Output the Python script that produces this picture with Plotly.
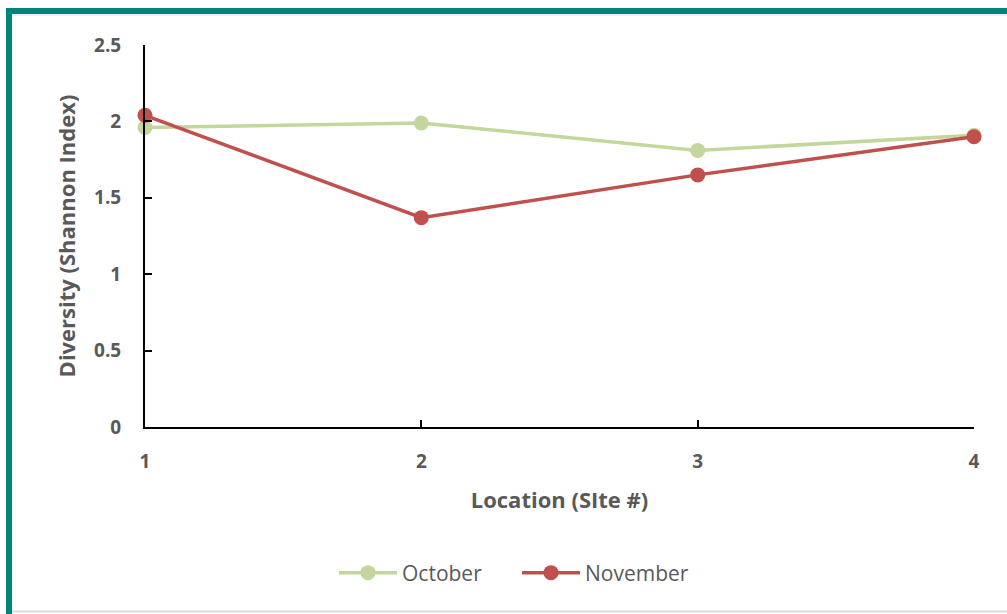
import plotly.graph_objects as go

sites = [1, 2, 3, 4]
october = [1.96, 1.99, 1.81, 1.91]
november = [2.04, 1.37, 1.65, 1.90]
series_names = ["October", "November"]
y_ticks = [0, 0.5, 1, 1.5, 2, 2.5]
y_tick_labels = ["0", "0.5", "1", "1.5", "2", "2.5"]

W, H = 1007, 614
L, R, T, B = 145, 974, 45, 427

def px(x):
    return (x - L) / (R - L)

def py(y):
    return (B - y) / (B - T)

fig = go.Figure()
fig.add_trace(go.Scatter(x=sites, y=october, name=series_names[0], mode="lines+markers",
                         line=dict(color="#C3D69B", width=3.5), marker=dict(size=15, color="#C3D69B"),
                         cliponaxis=False))
fig.add_trace(go.Scatter(x=sites, y=november, name=series_names[1], mode="lines+markers",
                         line=dict(color="#C0504D", width=3.5), marker=dict(size=15, color="#C0504D"),
                         cliponaxis=False))

teal = "#00857A"
shapes = [
    dict(type="rect", xref="paper", yref="paper", x0=px(6), x1=px(12), y0=py(614), y1=py(8),
         fillcolor=teal, line=dict(width=0), layer="below"),
    dict(type="rect", xref="paper", yref="paper", x0=px(6), x1=px(1007), y0=py(14), y1=py(8),
         fillcolor=teal, line=dict(width=0), layer="below"),
    dict(type="line", xref="paper", yref="paper", x0=px(12), x1=px(1007), y0=py(611.5), y1=py(611.5),
         line=dict(color="#D9D9D9", width=2), layer="below"),
    dict(type="line", xref="paper", yref="paper", x0=px(12), x1=px(1007), y0=py(15), y1=py(15),
         line=dict(color="#E0E0E0", width=1), layer="below"),
]

fig.update_layout(
    width=W, height=H,
    margin=dict(l=L, r=W - R, t=T, b=H - B),
    paper_bgcolor="white", plot_bgcolor="white",
    font=dict(family="Open Sans, sans-serif", color="#595959"),
    showlegend=True,
    legend=dict(orientation="h", x=px(334), xanchor="left", y=py(573), yanchor="middle",
                font=dict(size=21, color="#595959"), itemwidth=58,
                entrywidth=110, entrywidthmode="pixels"),
    shapes=shapes,
    xaxis=dict(range=[1, 4], tickvals=sites, ticktext=[str(s) for s in sites],
               showgrid=False, zeroline=False, showline=True, linecolor="black", linewidth=2,
               ticks="inside", ticklen=7, tickwidth=1.5, tickcolor="black",
               ticklabelstandoff=16,
               tickfont=dict(size=19, color="#595959", weight="bold"),
               title=dict(text="Location (SIte #)", standoff=20,
                          font=dict(size=22, color="#595959", weight="bold"))),
    yaxis=dict(range=[0, 2.5], tickvals=y_ticks, ticktext=y_tick_labels,
               showgrid=False, zeroline=False, showline=True, linecolor="black", linewidth=2,
               ticks="inside", ticklen=7, tickwidth=1.5, tickcolor="black",
               ticklabelstandoff=18,
               tickfont=dict(size=19, color="#595959", weight="bold"),
               title=dict(text="Diversity (Shannon Index)", standoff=12,
                          font=dict(size=22, color="#595959", weight="bold"))),
)

fig.write_html("out.html")
